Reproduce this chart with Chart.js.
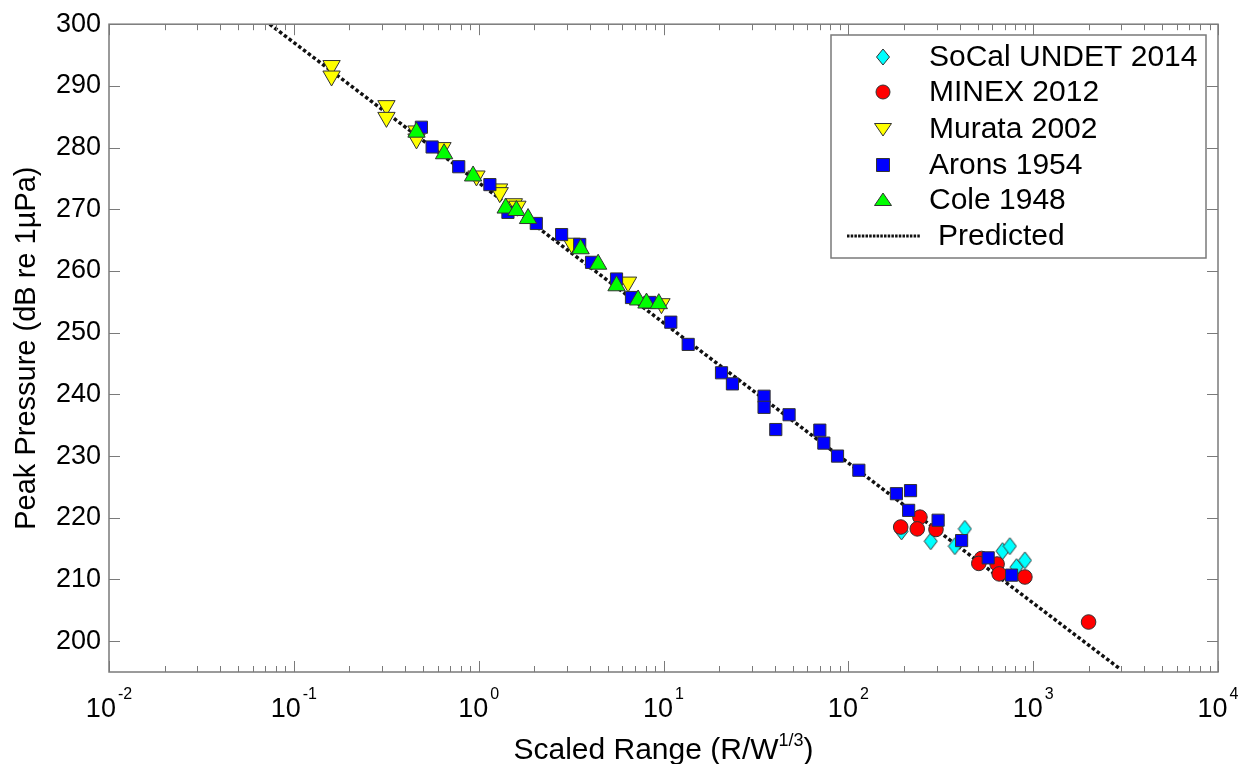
<!DOCTYPE html>
<html>
<head>
<meta charset="utf-8">
<script src="https://cdn.jsdelivr.net/npm/chart.js@4"></script>
<style>
html, body { margin: 0; padding: 0; background: #fff; }
canvas { display: block; }
</style>
</head>
<body>
<canvas id="chart" width="1241" height="764"></canvas>
<script>
// data (x = scaled range, y = peak pressure in dB re 1 uPa)
const socalX = [194, 279, 427, 377, 683, 748, 813, 902];
const socalY = [217.8, 216.2, 218.2, 215.4, 214.6, 215.4, 212.0, 213.1];

const minexX = [244, 192, 236, 298, 526, 508, 638, 655, 902, 1994];
const minexY = [220.1, 218.5, 218.2, 218.1, 213.4, 212.6, 212.5, 210.9, 210.4, 203.1];

const murataX = [0.160, 0.160, 0.317, 0.317, 0.461, 0.461, 0.637, 0.973, 1.29, 1.30, 1.55, 1.62, 3.18, 6.43, 9.75];
const murataY = [293.3, 291.6, 286.8, 284.9, 282.7, 281.4, 280.0, 275.4, 273.3, 272.7, 270.9, 270.5, 264.5, 258.2, 254.7];

const aronsX = [0.490, 0.560, 0.780, 1.15, 1.44, 2.05, 2.81, 3.52, 4.08, 5.57, 6.71, 8.43, 10.95, 13.6, 20.6, 23.6,
                35.0, 35.0, 40.5, 47.8, 70.1, 73.7, 87.4, 114, 182, 217, 212, 306, 410, 571, 764];
const aronsY = [283.3, 280.1, 276.9, 274.0, 269.5, 267.7, 265.9, 264.3, 261.4, 258.7, 255.7, 254.9, 251.7, 248.1, 243.5, 241.7,
                239.7, 237.9, 234.3, 236.7, 234.2, 232.1, 230.0, 227.7, 223.9, 224.4, 221.2, 219.6, 216.3, 213.5, 210.7];

const coleX = [0.461, 0.650, 0.933, 1.40, 1.60, 1.85, 3.56, 4.43, 5.57, 7.29, 8.09, 9.43];
const coleY = [282.5, 279.0, 275.4, 270.2, 269.8, 268.5, 263.6, 261.1, 257.6, 255.3, 254.8, 254.7];

// end points of the predicted line
const predX = [0.074, 2950];
const predY = [300, 195.5];

const yTicks = [200, 210, 220, 230, 240, 250, 260, 270, 280, 290, 300];
const xDecades = [0.01, 0.1, 1, 10, 100, 1000, 10000];

const legendNames = ['SoCal UNDET 2014', 'MINEX 2012', 'Murata 2002', 'Arons 1954', 'Cole 1948', 'Predicted'];

const FONT = "'Liberation Sans', Arial, Helvetica, sans-serif";
const EDGE = '#333';

function pairs(xs, ys) {
    return xs.map((x, i) => ({ x: x, y: ys[i] }));
}

function makeDiamond(w, h, fill) {
    const c = document.createElement('canvas');
    c.width = w + 2;
    c.height = h + 2;
    const g = c.getContext('2d');
    g.beginPath();
    g.moveTo(c.width / 2, 1);
    g.lineTo(c.width - 1, c.height / 2);
    g.lineTo(c.width / 2, c.height - 1);
    g.lineTo(1, c.height / 2);
    g.closePath();
    g.fillStyle = fill;
    g.fill();
    g.strokeStyle = EDGE;
    g.lineWidth = 1;
    g.stroke();
    return c;
}

// legend marker shapes
function drawMarker(ctx, kind, x, y, fill) {
    ctx.beginPath();
    if (kind === 'diamond') {
        ctx.moveTo(x, y - 8); ctx.lineTo(x + 6.5, y); ctx.lineTo(x, y + 8); ctx.lineTo(x - 6.5, y);
    } else if (kind === 'circle') {
        ctx.arc(x, y, 7, 0, Math.PI * 2);
    } else if (kind === 'down') {
        ctx.moveTo(x - 8.5, y - 5.5); ctx.lineTo(x + 8.5, y - 5.5); ctx.lineTo(x, y + 7);
    } else if (kind === 'square') {
        ctx.rect(x - 6.5, y - 6.5, 13, 13);
    } else if (kind === 'up') {
        ctx.moveTo(x - 8.5, y + 5.5); ctx.lineTo(x + 8.5, y + 5.5); ctx.lineTo(x, y - 7);
    }
    ctx.closePath();
    ctx.fillStyle = fill;
    ctx.fill();
    ctx.lineWidth = 1;
    ctx.strokeStyle = EDGE;
    ctx.stroke();
}

const colors = ['#00FFFF', '#FF0000', '#FFFF00', '#0000FF', '#00FF00'];
const kinds = ['diamond', 'circle', 'down', 'square', 'up'];

const framePlugin = {
    id: 'frame',
    beforeDraw(chart) {
        const ctx = chart.ctx;
        ctx.save();
        ctx.fillStyle = '#fff';
        ctx.fillRect(0, 0, chart.width, chart.height);
        ctx.restore();
    },
    afterDatasetsDraw(chart) {
        const ctx = chart.ctx;
        const a = chart.chartArea;
        const xs = chart.scales.x;
        const ys = chart.scales.y;
        ctx.save();

        // inward ticks, MATLAB style
        ctx.strokeStyle = '#7a7a7a';
        ctx.lineWidth = 1;
        ctx.beginPath();
        yTicks.forEach(v => {
            const py = Math.round(ys.getPixelForValue(v)) + 0.5;
            ctx.moveTo(a.left, py); ctx.lineTo(a.left + 11, py);
            ctx.moveTo(a.right, py); ctx.lineTo(a.right - 11, py);
        });
        xDecades.forEach((d, i) => {
            const px = Math.round(xs.getPixelForValue(d)) + 0.5;
            ctx.moveTo(px, a.bottom); ctx.lineTo(px, a.bottom - 11);
            ctx.moveTo(px, a.top); ctx.lineTo(px, a.top + 11);
            if (i < xDecades.length - 1) {
                for (let m = 2; m <= 9; m++) {
                    const pm = Math.round(xs.getPixelForValue(d * m)) + 0.5;
                    ctx.moveTo(pm, a.bottom); ctx.lineTo(pm, a.bottom - 6);
                    ctx.moveTo(pm, a.top); ctx.lineTo(pm, a.top + 6);
                }
            }
        });
        ctx.stroke();
        ctx.lineWidth = 1.5;
        ctx.strokeRect(a.left, a.top, a.right - a.left, a.bottom - a.top);

        // x tick labels 10^n
        ctx.fillStyle = '#000';
        ctx.textBaseline = 'alphabetic';
        ctx.textAlign = 'left';
        xDecades.forEach(v => {
            const px = xs.getPixelForValue(v);
            const e = String(Math.round(Math.log10(v)));
            ctx.font = '27px ' + FONT;
            const wb = ctx.measureText('10').width;
            ctx.font = '16px ' + FONT;
            const we = ctx.measureText(e).width;
            const left = px - (wb + we + 2) / 2;
            ctx.font = '27px ' + FONT;
            ctx.fillText('10', left, a.bottom + 45);
            ctx.font = '16px ' + FONT;
            ctx.fillText(e, left + wb + 2, a.bottom + 27);
        });

        // x title with superscript
        const t1 = 'Scaled Range (R/W', t2 = '1/3', t3 = ')';
        ctx.font = '30px ' + FONT;
        const w1 = ctx.measureText(t1).width, w3 = ctx.measureText(t3).width;
        ctx.font = '18px ' + FONT;
        const w2 = ctx.measureText(t2).width;
        let tx = (a.left + a.right) / 2 - (w1 + w2 + w3) / 2;
        ctx.font = '30px ' + FONT;
        ctx.fillText(t1, tx, a.bottom + 87);
        ctx.font = '18px ' + FONT;
        ctx.fillText(t2, tx + w1, a.bottom + 74);
        ctx.font = '30px ' + FONT;
        ctx.fillText(t3, tx + w1 + w2, a.bottom + 87);

        // legend box
        const lx = 831, ly = 35, lw = 375, lh = 223;
        ctx.fillStyle = '#fff';
        ctx.fillRect(lx, ly, lw, lh);
        ctx.strokeStyle = '#7a7a7a';
        ctx.lineWidth = 1.5;
        ctx.strokeRect(lx, ly, lw, lh);
        const rowY = [57, 92, 129, 165, 200, 236];
        ctx.font = '30px ' + FONT;
        ctx.textBaseline = 'middle';
        for (let i = 0; i < 5; i++) {
            drawMarker(ctx, kinds[i], 883, rowY[i], colors[i]);
            ctx.fillStyle = '#000';
            ctx.fillText(legendNames[i], 929, rowY[i] + 1);
        }
        ctx.beginPath();
        ctx.setLineDash([2.5, 1.2]);
        ctx.lineWidth = 3;
        ctx.strokeStyle = '#111';
        ctx.moveTo(847, rowY[5]);
        ctx.lineTo(920, rowY[5]);
        ctx.stroke();
        ctx.setLineDash([]);
        ctx.fillStyle = '#000';
        ctx.fillText(legendNames[5], 938, rowY[5] + 1);

        ctx.restore();
    }
};

function scatterSet(label, xs, ys, color, style, radius, rotation, order) {
    return {
        label: label,
        data: pairs(xs, ys),
        showLine: false,
        pointStyle: style,
        pointRadius: radius,
        pointHoverRadius: radius,
        pointRotation: rotation,
        pointBackgroundColor: color,
        pointBorderColor: EDGE,
        pointBorderWidth: 1,
        order: order
    };
}

const ctx = document.getElementById('chart').getContext('2d');
new Chart(ctx, {
    type: 'scatter',
    data: {
        datasets: [
            scatterSet(legendNames[4], coleX, coleY, colors[4], 'triangle', 10, 0, 1),
            scatterSet(legendNames[3], aronsX, aronsY, colors[3], 'rect', 8.6, 0, 2),
            scatterSet(legendNames[2], murataX, murataY, colors[2], 'triangle', 10, 180, 3),
            scatterSet(legendNames[1], minexX, minexY, colors[1], 'circle', 7.3, 0, 4),
            scatterSet(legendNames[0], socalX, socalY, colors[0], makeDiamond(13, 17, colors[0]), 8, 0, 5),
            {
                label: legendNames[5],
                data: pairs(predX, predY),
                showLine: true,
                borderColor: '#111',
                borderWidth: 3.5,
                borderDash: [3.5, 2.5],
                pointRadius: 0,
                fill: false,
                order: 6
            }
        ]
    },
    options: {
        responsive: false,
        animation: false,
        devicePixelRatio: 1,
        layout: { padding: { top: 23, right: 23, left: 0, bottom: 0 } },
        plugins: {
            legend: { display: false },
            tooltip: { enabled: false }
        },
        scales: {
            x: {
                type: 'logarithmic',
                min: 0.01,
                max: 10000,
                grid: { display: false, drawTicks: false },
                border: { display: false },
                ticks: { display: false },
                afterBuildTicks: s => { s.ticks = xDecades.map(v => ({ value: v })); },
                afterFit: s => { s.height = 92; }
            },
            y: {
                min: 195,
                max: 300,
                grid: { display: false, drawTicks: false },
                border: { display: false },
                afterBuildTicks: s => { s.ticks = yTicks.map(v => ({ value: v })); },
                ticks: { font: { family: FONT, size: 27 }, color: '#000', padding: 8 },
                title: {
                    display: true,
                    text: 'Peak Pressure (dB re 1\u00B5Pa)',
                    font: { family: FONT, size: 29 },
                    color: '#000',
                    padding: { top: 10, bottom: 0 }
                },
                afterFit: s => { s.width = 109; }
            }
        }
    },
    plugins: [framePlugin]
});
</script>
</body>
</html>
